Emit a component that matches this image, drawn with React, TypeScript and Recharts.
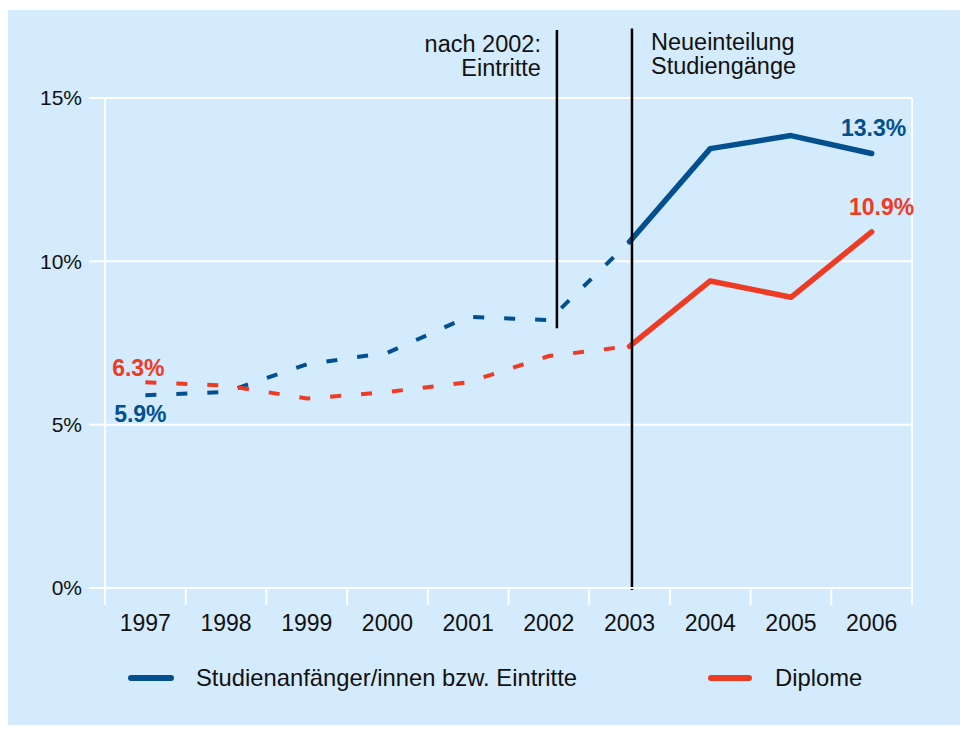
import { LineChart, Line, XAxis, YAxis, CartesianGrid, ReferenceLine } from "recharts";

// Werte in Prozent
const years = ["1997", "1998", "1999", "2000", "2001", "2002", "2003", "2004", "2005", "2006"];
const entrants = [5.9, 6.0, 6.85, 7.2, 8.3, 8.2, 10.6, 13.45, 13.85, 13.3];
const diplomas = [6.3, 6.2, 5.8, 6.0, 6.3, 7.1, 7.4, 9.4, 8.9, 10.9];
const breakYear = "2003"; // ab hier durchgezogene Linie
const yTicks = [0, 5, 10, 15];

// Markierungen (x in Jahresfeldern 0..10, y in Prozent)
const markers = [
  { x: 5.6, from: 7.95, to: 17.08, lines: ["nach 2002:", "Eintritte"], side: "left" },
  { x: 6.53, from: -0.06, to: 17.13, lines: ["Neueinteilung", "Studiengänge"], side: "right" },
];

const BLUE = "#02508f";
const RED = "#ee3b24";
const BG = "#d4eafd";
const FONT = "'Liberation Sans', Arial, Helvetica, sans-serif";

const CHART_W = 960;
const Y_AXIS_W = 97;
const RIGHT = 56;
const PLOT_W = CHART_W - Y_AXIS_W - RIGHT;
const HALF_BAND = PLOT_W / years.length / 2;

const breakIdx = years.indexOf(breakYear);
// jedes Jahr liegt in der Mitte seines Feldes
const rows = years.map((year, i) => ({
  year,
  pos: i + 0.5,
  entrantsDashed: i <= breakIdx ? entrants[i] : null,
  entrantsSolid: i >= breakIdx ? entrants[i] : null,
  diplomasDashed: i <= breakIdx ? diplomas[i] : null,
  diplomasSolid: i >= breakIdx ? diplomas[i] : null,
}));
const boundaryTicks = Array.from({ length: years.length + 1 }, (_, i) => i);

function YearTick(props: any) {
  const { x, y, payload } = props;
  const label = years[payload.value];
  if (!label) return null;
  return (
    <text x={x + HALF_BAND} y={y + 26} textAnchor="middle" fill="#111" fontSize={23} fontFamily={FONT}>
      {label}
    </text>
  );
}

function valueLabel(color: string, atIndex: number, dx: number, dy: number) {
  return (props: any) => {
    const { x, y, value, index } = props;
    if (index !== atIndex || value == null) return null;
    return (
      <text
        x={x + dx}
        y={y + dy}
        textAnchor="middle"
        fill={color}
        fontSize={23}
        fontWeight={700}
        fontFamily={FONT}
      >
        {`${Number(value).toFixed(1)}%`}
      </text>
    );
  };
}

function MarkerText(props: any) {
  const { viewBox, lines, side } = props;
  if (!viewBox) return null;
  const top = Math.min(viewBox.y, viewBox.y + (viewBox.height || 0));
  const left = side === "left";
  const tx = left ? viewBox.x - 16 : viewBox.x + 19;
  return (
    <text x={tx} y={top + 22} textAnchor={left ? "end" : "start"} fill="#111" fontSize={23.5} fontFamily={FONT}>
      {lines.map((l: string, i: number) => (
        <tspan key={l} x={tx} dy={i === 0 ? 0 : 23.5}>
          {l}
        </tspan>
      ))}
    </text>
  );
}

export default function App() {
  return (
    <div style={{ position: "relative", width: 960, height: 717, fontFamily: FONT }}>
      <style>{"html,body{overflow:hidden}"}</style>
      <div
        style={{
          position: "absolute",
          left: 0,
          top: -19,
          fontSize: 23,
          lineHeight: "20px",
          color: "#111",
          whiteSpace: "nowrap",
        }}
      >
        Abschlüsse im Jahr 2006
      </div>
      {/* Hintergrundfläche läuft bis an den Rand des Fensters */}
      <div style={{ position: "absolute", left: 0, top: 2, width: CHART_W + 20, height: 745, background: BG }}>
        <LineChart
          width={CHART_W}
          height={725}
          data={rows}
          margin={{ top: 88, right: RIGHT, bottom: 101, left: 0 }}
        >
          <CartesianGrid vertical={false} stroke="#ffffff" strokeWidth={2} />
          <XAxis
            dataKey="pos"
            type="number"
            domain={[0, years.length]}
            ticks={boundaryTicks}
            interval={0}
            allowDataOverflow
            height={46}
            tickSize={17}
            tickMargin={0}
            tick={<YearTick />}
            tickLine={{ stroke: "#ffffff", strokeWidth: 2 }}
            axisLine={{ stroke: "#ffffff", strokeWidth: 2 }}
          />
          <YAxis
            domain={[0, 15]}
            ticks={yTicks}
            interval={0}
            width={Y_AXIS_W}
            tickSize={16}
            tickMargin={7}
            tickFormatter={(v) => `${v}%`}
            tick={{ fill: "#111", fontSize: 21, fontFamily: FONT }}
            tickLine={{ stroke: "#ffffff", strokeWidth: 2 }}
            axisLine={{ stroke: "#ffffff", strokeWidth: 2 }}
          />
          <ReferenceLine x={years.length} stroke="#ffffff" strokeWidth={2} />

          <Line
            dataKey="entrantsDashed"
            stroke={BLUE}
            strokeWidth={4}
            strokeDasharray="11 20"
            dot={false}
            activeDot={false}
            isAnimationActive={false}
            label={valueLabel(BLUE, 0, -5, 27)}
          />
          <Line
            dataKey="diplomasDashed"
            stroke={RED}
            strokeWidth={4}
            strokeDasharray="11 20"
            dot={false}
            activeDot={false}
            isAnimationActive={false}
            label={valueLabel(RED, 0, -7, -6)}
          />
          <Line
            dataKey="entrantsSolid"
            stroke={BLUE}
            strokeWidth={5.5}
            strokeLinecap="round"
            strokeLinejoin="round"
            dot={false}
            activeDot={false}
            isAnimationActive={false}
            label={valueLabel(BLUE, years.length - 1, 2, -18)}
          />
          <Line
            dataKey="diplomasSolid"
            stroke={RED}
            strokeWidth={5.5}
            strokeLinecap="round"
            strokeLinejoin="round"
            dot={false}
            activeDot={false}
            isAnimationActive={false}
            label={valueLabel(RED, years.length - 1, 10, -17)}
          />

          {markers.map((m) => (
            <ReferenceLine
              key={m.lines[0]}
              segment={[
                { x: m.x, y: m.from },
                { x: m.x, y: m.to },
              ]}
              ifOverflow="visible"
              stroke="#000"
              strokeWidth={2.5}
              label={<MarkerText lines={m.lines} side={m.side} />}
            />
          ))}
        </LineChart>

        <div
          style={{
            position: "absolute",
            top: 656,
            left: 0,
            width: CHART_W,
            height: 24,
            fontSize: 23.8,
            color: "#111",
          }}
        >
          <div style={{ position: "absolute", left: 120, top: 9, width: 46, height: 6, borderRadius: 3, background: BLUE }} />
          <div style={{ position: "absolute", left: 188, top: 0, lineHeight: "24px", whiteSpace: "nowrap" }}>
            Studienanfänger/innen bzw. Eintritte
          </div>
          <div style={{ position: "absolute", left: 700, top: 9, width: 44, height: 6, borderRadius: 3, background: RED }} />
          <div style={{ position: "absolute", left: 767, top: 0, lineHeight: "24px", whiteSpace: "nowrap" }}>
            Diplome
          </div>
        </div>
      </div>
    </div>
  );
}
